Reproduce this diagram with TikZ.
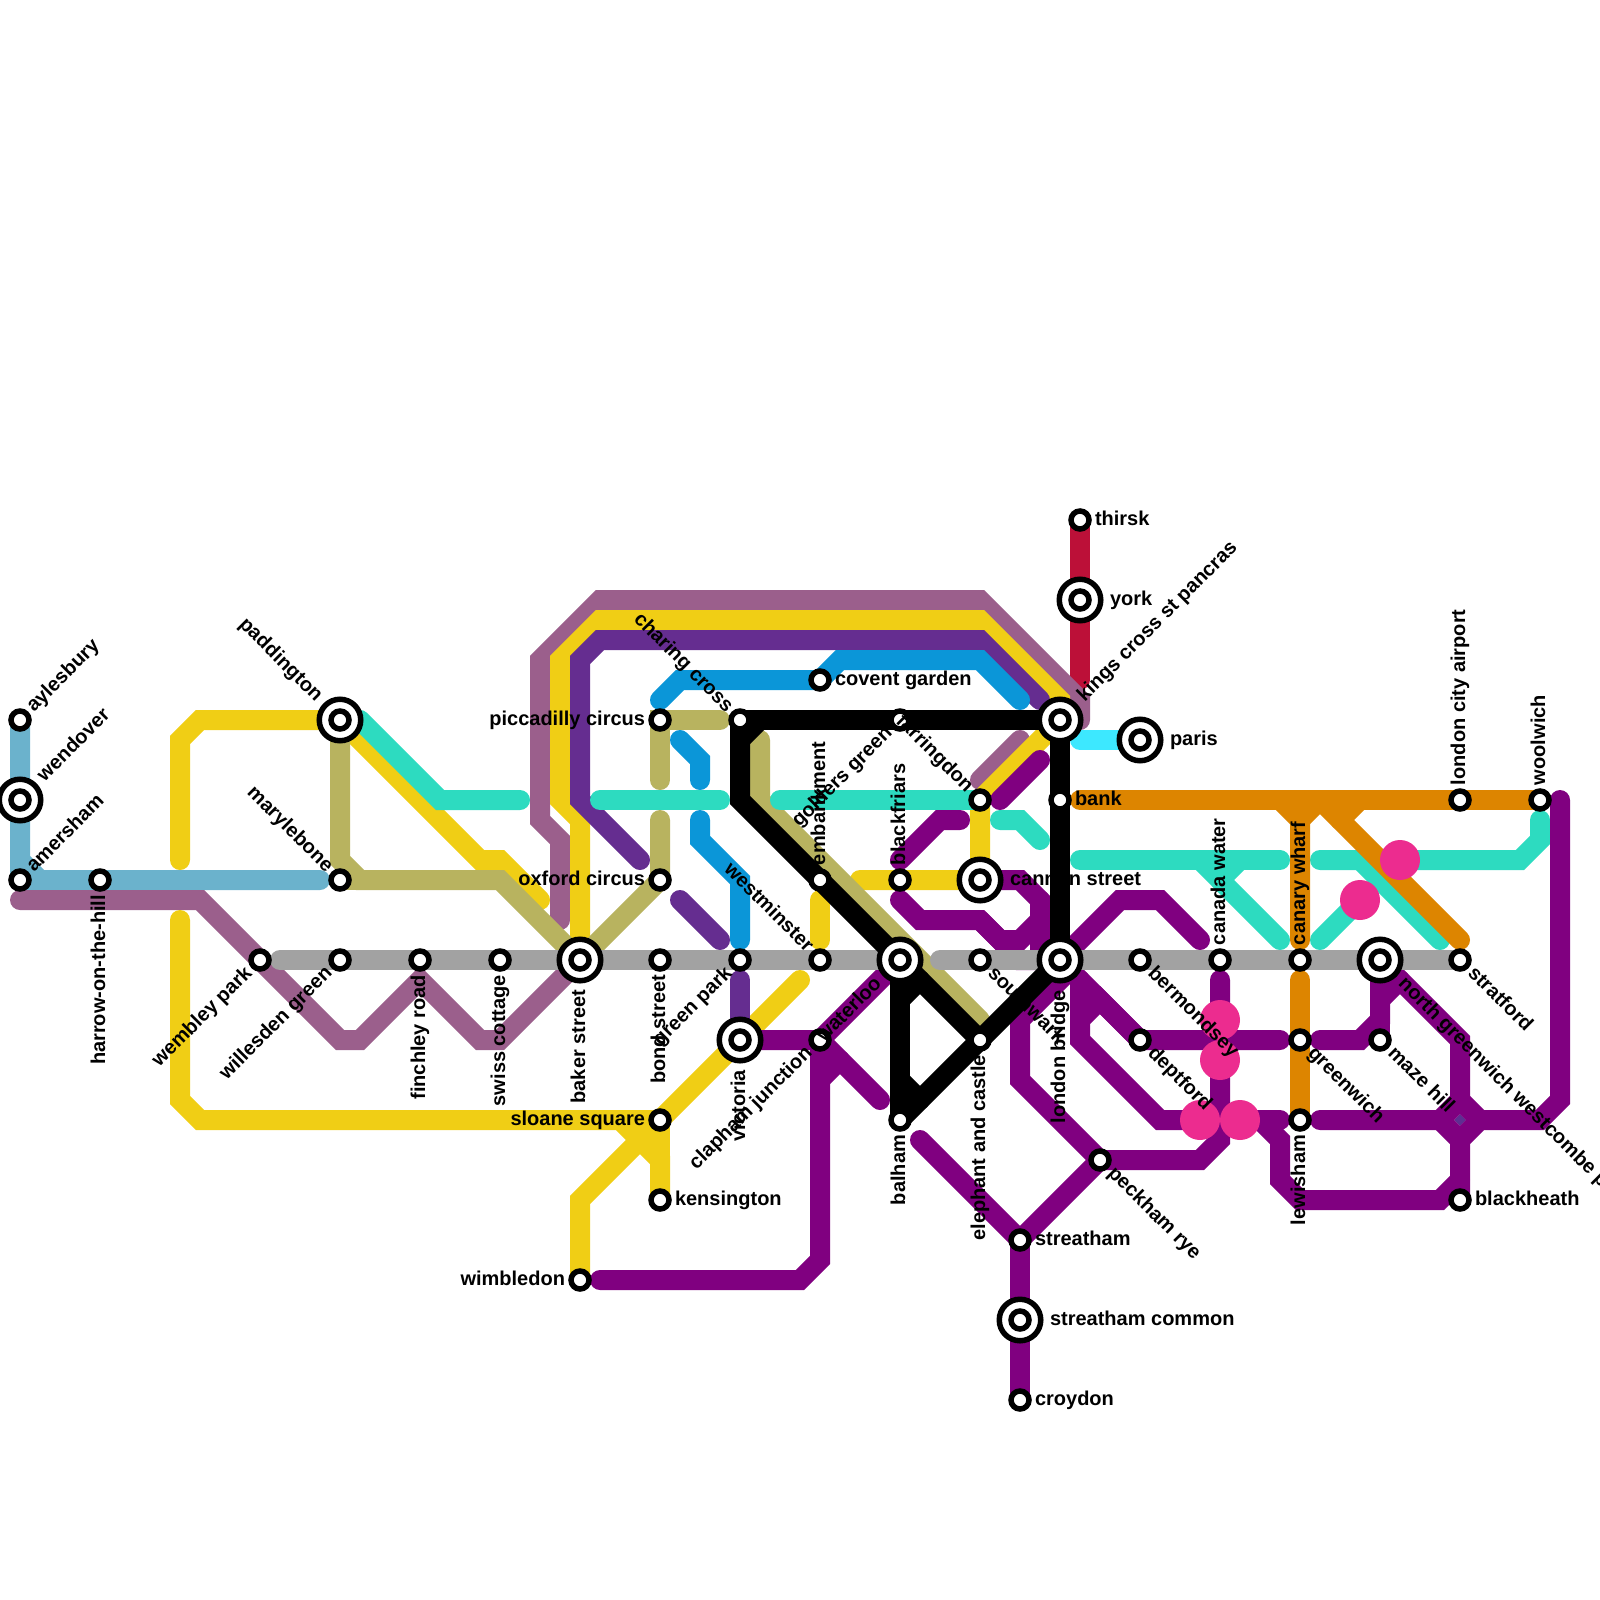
\documentclass[tikz,border=0pt]{standalone}
\usepackage{fontspec}
\setmainfont{Liberation Sans}
\usepackage{xcolor}
\usepackage{tikz}
\usetikzlibrary{backgrounds}
\definecolor{CGrey}{HTML}{A2A2A2}
\definecolor{CYellow}{HTML}{F0CE15}
\definecolor{CTeal}{HTML}{2DDBC0}
\definecolor{CPurple}{HTML}{800080}
\definecolor{CIndigo}{HTML}{652D90}
\definecolor{CMauve}{HTML}{9B5F8C}
\definecolor{COlive}{HTML}{B8B35F}
\definecolor{CBlue}{HTML}{0B96D8}
\definecolor{CSky}{HTML}{6BB2CC}
\definecolor{COrange}{HTML}{DD8500}
\definecolor{CCrimson}{HTML}{BC1038}
\definecolor{CCyan}{HTML}{3DE8FF}
\definecolor{CPink}{HTML}{EC2C8F}
\definecolor{CDiamond}{HTML}{5E2F92}
\tikzset{
  metro/.style={line width=20pt, line cap=round, line join=miter},
  stn/.style={circle, draw=black, fill=white, line width=5.5pt, inner sep=0pt, outer sep=0pt, minimum size=18pt},
  hubring/.style={circle, draw=black, fill=white, line width=5.5pt, inner sep=0pt, outer sep=0pt, minimum size=41.5pt},
  blob/.style={circle, fill=CPink, inner sep=0pt, outer sep=0pt, minimum size=40pt},
  lbl/.style={font=\fontsize{20}{20}\selectfont\bfseries, text=black, inner sep=0pt, outer sep=0pt},
  lblright/.style={lbl, anchor=base west, xshift=#1, yshift=-5pt},
  lblleft/.style={lbl, anchor=base east, xshift=-#1, yshift=-5pt},
  lblup/.style={lbl, rotate=90, anchor=base west, xshift=#1, yshift=-5pt},
  lbldown/.style={lbl, rotate=90, anchor=base east, xshift=-#1, yshift=-5pt},
  lblne/.style={lbl, rotate=45, anchor=base west, xshift=#1, yshift=-5pt},
  lblsw/.style={lbl, rotate=45, anchor=base east, xshift=-#1, yshift=-5pt},
  lblnw/.style={lbl, rotate=-45, anchor=base east, xshift=-#1, yshift=-5pt},
  lblse/.style={lbl, rotate=-45, anchor=base west, xshift=#1, yshift=-5pt},
}
\begin{document}
\begin{tikzpicture}[x=1pt,y=-1pt]
  \useasboundingbox (0,0) rectangle (1600,1600);
  % big stations get an extra ring
  \foreach \nm/\cx/\cy in {wendover/20/800, paddington/340/720, baker/580/960, victoria/740/1040,
      waterloo/900/960, cannon/980/880, kings/1060/720, london/1060/960, york/1080/600,
      paris/1140/740, common/1020/1320, northgr/1380/960}{
    \node[hubring] (\nm-ring) at (\cx,\cy) {};
  }
  \foreach \nm/\cx/\cy in {wendover/20/800, paddington/340/720, baker/580/960, victoria/740/1040,
      waterloo/900/960, cannon/980/880, kings/1060/720, london/1060/960, york/1080/600,
      paris/1140/740, common/1020/1320, northgr/1380/960,
      aylesbury/20/720, amersham/20/880, harrow/100/880, marylebone/340/880, wembley/260/960,
      willesden/340/960, finchley/420/960, swiss/500/960, bond/660/960, piccadilly/660/720,
      oxford/660/880, sloane/660/1120, kensington/660/1200, wimbledon/580/1280, charing/740/720,
      green/740/960, westminster/820/960, clapham/820/1040, covent/820/680, embankment/820/880,
      golders/900/720, blackfriars/900/880, balham/900/1120, farringdon/980/800, southwark/980/960,
      elephant/980/1040, bank/1060/800, thirsk/1080/520, streatham/1020/1240, croydon/1020/1400,
      peckham/1100/1160, bermondsey/1140/960, deptford/1140/1040, canada/1220/960, canary/1300/960,
      greenwich/1300/1040, lewisham/1300/1120, maze/1380/1040, stratford/1460/960, city/1460/800,
      blackheath/1460/1200, woolwich/1540/800}{
    \node[stn] (\nm) at (\cx,\cy) {};
  }
  \foreach \nm/\cx/\cy in {blobA/1220/1020, blobB/1220/1060, blobC/1200/1120, blobD/1240/1120,
      blobE/1360/900, blobF/1400/860}{
    \node[blob] (\nm) at (\cx,\cy) {};
  }
  \foreach \nm/\off/\lbl in {aylesbury/15/aylesbury, wendover/30/wendover, amersham/15/amersham,
      kings/30/kings cross st pancras}{
    \node[lblne=\off] (\nm-t) at (\nm) {\lbl};
  }
  \foreach \nm/\off/\lbl in {paddington/30/paddington, marylebone/15/marylebone, charing/15/charing cross,
      farringdon/15/farringdon, westminster/15/westminster}{
    \node[lblnw=\off] (\nm-t) at (\nm) {\lbl};
  }
  \foreach \nm/\off/\lbl in {wembley/15/wembley park, willesden/15/willesden green, green/15/green park,
      clapham/15/clapham junction, waterloo/30/waterloo, golders/15/golders green}{
    \node[lblsw=\off] (\nm-t) at (\nm) {\lbl};
  }
  \foreach \nm/\off/\lbl in {southwark/15/southwark, bermondsey/15/bermondsey, deptford/15/deptford,
      peckham/15/peckham rye, greenwich/15/greenwich, northgr/30/north greenwich westcombe park,
      maze/15/maze hill, stratford/15/stratford}{
    \node[lblse=\off] (\nm-t) at (\nm) {\lbl};
  }
  \foreach \nm/\off/\lbl in {embankment/15/embankment, blackfriars/15/blackfriars, canada/15/canada water,
      canary/15/canary wharf, city/15/london city airport, woolwich/15/woolwich}{
    \node[lblup=\off] (\nm-t) at (\nm) {\lbl};
  }
  \foreach \nm/\off/\lbl in {harrow/15/harrow-on-the-hill, finchley/15/finchley road, swiss/15/swiss cottage,
      baker/30/baker street, bond/15/bond street, victoria/30/victoria, balham/15/balham,
      elephant/15/elephant and castle, london/30/london bridge, lewisham/15/lewisham}{
    \node[lbldown=\off] (\nm-t) at (\nm) {\lbl};
  }
  \foreach \nm/\off/\lbl in {thirsk/15/thirsk, york/30/york, paris/30/paris, covent/15/covent garden,
      cannon/30/cannon street, bank/15/bank, kensington/15/kensington, streatham/15/streatham,
      common/30/streatham common, croydon/15/croydon, blackheath/15/blackheath}{
    \node[lblright=\off] (\nm-t) at (\nm) {\lbl};
  }
  \foreach \nm/\off/\lbl in {piccadilly/15/piccadilly circus, oxford/15/oxford circus,
      sloane/15/sloane square, wimbledon/15/wimbledon}{
    \node[lblleft=\off] (\nm-t) at (\nm) {\lbl};
  }
  \begin{scope}[on background layer]
    \draw[metro, CSky] (aylesbury.center) -- (20,860) -- (40,880) -- (320,880);
    \draw[metro, CSky] (amersham.center) -- (40,880);
    \draw[metro, CSky] (amersham.center) -- (20,860);
    \draw[metro, CCrimson] (thirsk.center) -- (1080,680);
    \draw[metro, CCyan] (1080,740) -- (paris.center);
    \draw[metro, CMauve] (20,900) -- (200,900) -- (340,1040) -- (360,1040) -- (420,980) -- (480,1040) -- (500,1040) -- (baker.center);
    \draw[metro, CMauve] (560,920) -- (560,840) -- (540,820) -- (540,660) -- (600,600) -- (980,600) -- (1080,700) -- (1080,720);
    \draw[metro, CMauve] (1020,740) -- (980,780);
    \draw[metro, CYellow] (180,860) -- (180,740) -- (200,720) -- (paddington.center);
    \draw[metro, CYellow] (180,920) -- (180,1100) -- (200,1120) -- (620,1120) -- (660,1160) -- (kensington.center);
    \draw[metro, CYellow] (620,1120) -- (sloane.center) -- (kensington.center);
    \draw[metro, CYellow] (paddington.center) -- (480,860) -- (500,860) -- (540,900);
    \draw[metro, CYellow] (800,980) -- (580,1200) -- (wimbledon.center);
    \draw[metro, CYellow] (baker.center) -- (580,820) -- (560,800) -- (560,660) -- (600,620) -- (980,620) -- (1060,700) -- (kings.center);
    \draw[metro, CYellow] (kings.center) -- (farringdon.center) -- (cannon.center) -- (860,880);
    \draw[metro, CYellow] (820,900) -- (820,940);
    \draw[metro, CIndigo] (640,860) -- (580,800) -- (580,660) -- (600,640) -- (980,640) -- (1040,700);
    \draw[metro, CIndigo] (680,900) -- (720,940);
    \draw[metro, CIndigo] (740,980) -- (victoria.center);
    \draw[metro, CBlue] (660,700) -- (680,680) -- (covent.center) -- (840,660) -- (980,660) -- (1020,700);
    \draw[metro, CBlue] (680,740) -- (700,760) -- (700,780);
    \draw[metro, CBlue] (700,820) -- (700,840) -- (740,880) -- (740,940);
    \draw[metro, COlive] (paddington.center) -- (340,860) -- (360,880) -- (500,880) -- (baker.center);
    \draw[metro, COlive] (marylebone.center) -- (360,880);
    \draw[metro, COlive] (baker.center) -- (oxford.center) -- (660,820);
    \draw[metro, COlive] (720,720) -- (piccadilly.center) -- (660,780);
    \draw[metro, COlive] (760,740) -- (760,800) -- (980,1020);
    \draw[metro, CTeal] (360,720) -- (440,800) -- (520,800);
    \draw[metro, CTeal] (600,800) -- (720,800);
    \draw[metro, CTeal] (780,800) -- (farringdon.center);
    \draw[metro, CTeal] (1000,820) -- (1020,820) -- (1040,840);
    \draw[metro, CTeal] (1080,860) -- (1280,860);
    \draw[metro, CTeal] (1200,860) -- (1280,940);
    \draw[metro, CTeal] (1240,860) -- (1220,880);
    \draw[metro, CTeal] (1320,860) -- (1520,860) -- (1540,840) -- (1540,820);
    \draw[metro, CTeal] (1360,860) -- (1440,940);
    \draw[metro, CTeal] (1320,940) -- (blobE.center);
    \draw[metro, COrange] (1080,800) -- (woolwich.center);
    \draw[metro, COrange] (1280,800) -- (1300,820) -- (1300,940);
    \draw[metro, COrange] (1320,800) -- (1300,820);
    \draw[metro, COrange] (1320,800) -- (1460,940);
    \draw[metro, COrange] (1360,800) -- (1340,820);
    \draw[metro, COrange] (1300,980) -- (lewisham.center);
    \fill[CDiamond] (1454,1120) -- (1460,1114) -- (1466,1120) -- (1460,1126) -- cycle;
    \draw[metro, CPurple] (victoria.center) -- (clapham.center) -- (waterloo.center);
    \draw[metro, CPurple] (clapham.center) -- (880,1100);
    \draw[metro, CPurple] (840,1060) -- (820,1080);
    \draw[metro, CPurple] (clapham.center) -- (820,1260) -- (800,1280) -- (600,1280);
    \draw[metro, CPurple] (920,1140) -- (streatham.center) -- (peckham.center);
    \draw[metro, CPurple] (streatham.center) -- (croydon.center);
    \draw[metro, CPurple] (london.center) -- (1060,980) -- (1020,1020) -- (1020,1080) -- (peckham.center) -- (1200,1160) -- (1220,1140) -- (1220,980);
    \draw[metro, CPurple] (london.center) -- (deptford.center) -- (1280,1040);
    \draw[metro, CPurple] (deptford.center) -- (1100,1000) -- (1080,1020) -- (1080,1040) -- (1160,1120) -- (1280,1120);
    \draw[metro, CPurple] (1080,980) -- (1080,1020);
    \draw[metro, CPurple] (1260,1120) -- (1280,1140) -- (1280,1180) -- (1300,1200) -- (1440,1200) -- (1460,1180);
    \draw[metro, CPurple] (1320,1040) -- (1360,1040) -- (1380,1020) -- (northgr.center);
    \draw[metro, CPurple] (1380,1000) -- (1400,980);
    \draw[metro, CPurple] (maze.center) -- (1380,1020);
    \draw[metro, CPurple] (northgr.center) -- (1460,1040) -- (1460,1100) -- (1440,1120) -- (1320,1120);
    \draw[metro, CPurple] (1460,1100) -- (1480,1120);
    \draw[metro, CPurple] (1440,1120) -- (1460,1140);
    \draw[metro, CPurple] (1560,800) -- (1560,1100) -- (1540,1120) -- (1480,1120) -- (1460,1140) -- (blackheath.center);
    \draw[metro, CPurple] (1040,760) -- (1000,800);
    \draw[metro, CPurple] (960,820) -- (940,820) -- (900,860);
    \draw[metro, CPurple] (900,900) -- (920,920) -- (980,920) -- (1020,960) -- (london.center);
    \draw[metro, CPurple] (980,920) -- (1000,940) -- (1020,940) -- (1040,920) -- (1040,900) -- (1020,880) -- (cannon.center);
    \draw[metro, CPurple] (1040,900) -- (1040,960);
    \draw[metro, CPurple] (london.center) -- (1120,900) -- (1160,900) -- (1200,940);
    \draw[metro, CGrey] (280,960) -- (880,960);
    \draw[metro, CGrey] (940,960) -- (stratford.center);
    \draw[metro, black] (charing.center) -- (kings.center) -- (london.center);
    \draw[metro, black] (760,720) -- (740,740);
    \draw[metro, black] (charing.center) -- (740,800) -- (waterloo.center) -- (elephant.center);
    \draw[metro, black] (balham.center) -- (london.center);
    \draw[metro, black] (waterloo.center) -- (balham.center);
    \draw[metro, black] (920,980) -- (900,1000);
    \draw[metro, black] (900,1080) -- (920,1100);
  \end{scope}
\end{tikzpicture}
\end{document}
